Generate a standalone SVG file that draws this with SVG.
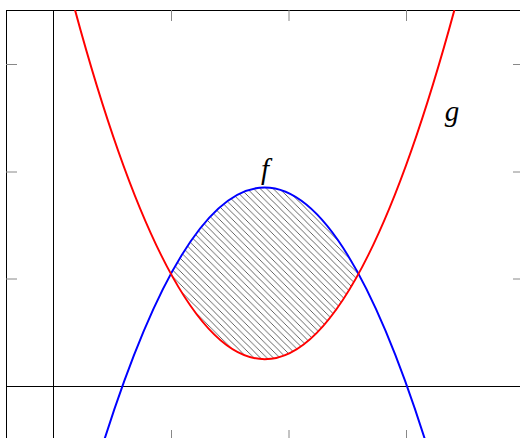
<svg xmlns="http://www.w3.org/2000/svg" width="520" height="438" viewBox="0 0 520 438">
<style>
.frame{stroke:#000;stroke-width:1;fill:none}
.tick{stroke:#888;stroke-width:1}
.axis{stroke:#000;stroke-width:1}
.curve{fill:none;stroke-width:2}
.lbl{font-family:"Liberation Serif","Times New Roman",serif;font-style:italic;font-size:29px;fill:#000}
</style>
<defs>
<pattern id="hatch" patternUnits="userSpaceOnUse" width="6.5" height="6.5">
<path d="M-1,-1 L7.5,7.5 M-1,5.5 L1,7.5 M5.5,-1 L7.5,1" stroke="#555" stroke-width="0.9"/>
</pattern>
<clipPath id="plot"><rect x="6" y="10" width="520" height="430"/></clipPath>
</defs>
<g id="frame">
<line class="frame" x1="6" y1="10.5" x2="520" y2="10.5" stroke="#444"/>
<line class="frame" x1="6.5" y1="10" x2="6.5" y2="438"/>
</g>
<g id="ticks">
<line class="tick" x1="171.5" y1="10" x2="171.5" y2="21"/>
<line class="tick" x1="289" y1="10" x2="289" y2="21"/>
<line class="tick" x1="406.5" y1="10" x2="406.5" y2="21"/>
<line class="tick" x1="171.5" y1="430" x2="171.5" y2="438"/>
<line class="tick" x1="289" y1="430" x2="289" y2="438"/>
<line class="tick" x1="406.5" y1="430" x2="406.5" y2="438"/>
<line class="tick" x1="6" y1="64.5" x2="17" y2="64.5"/>
<line class="tick" x1="6" y1="172" x2="17" y2="172"/>
<line class="tick" x1="6" y1="279" x2="17" y2="279"/>
<line class="tick" x1="513" y1="64.5" x2="520" y2="64.5"/>
<line class="tick" x1="513" y1="172" x2="520" y2="172"/>
<line class="tick" x1="513" y1="279" x2="520" y2="279"/>
</g>
<g id="axes">
<line class="axis" x1="53.5" y1="10" x2="53.5" y2="438"/>
<line class="axis" x1="6" y1="386.5" x2="520" y2="386.5"/>
</g>
<g id="area">
<path d="M170.6,273.4 Q264.7,101.6 358.8,273.4 Q264.7,445.2 170.6,273.4 Z" fill="url(#hatch)"/>
</g>
<g id="curves" clip-path="url(#plot)">
<path id="f" class="curve" stroke="#0000ff" d="M103,444 Q264.7,-69 426.4,444"/>
<path id="g" class="curve" stroke="#ff0000" d="M75,10 Q264.7,708.4 454.4,10"/>
</g>
<g id="labels">
<text class="lbl" x="265" y="179" text-anchor="middle">f</text>
<text class="lbl" x="452" y="121" text-anchor="middle">g</text>
</g>
</svg>
